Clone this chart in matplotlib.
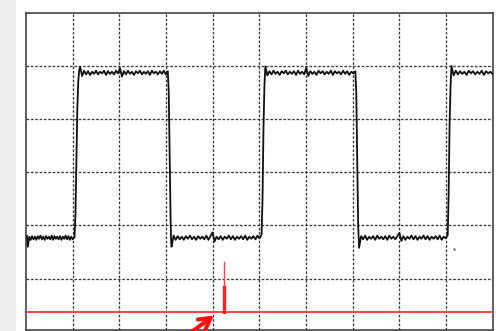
import numpy as np
import matplotlib
matplotlib.use("Agg")
import matplotlib.pyplot as plt
from matplotlib.patches import Rectangle

# ---- data (divisions: x 0..10, y 0..6) ----
low1_x = [0.02, 0.04, 0.07, 0.10, 0.13, 0.16, 0.19, 0.22, 0.25, 0.28, 0.31, 0.34,
          0.37, 0.40, 0.43, 0.46, 0.49, 0.52, 0.55, 0.58, 0.61, 0.64, 0.67, 0.70,
          0.73, 0.76, 0.79, 0.82, 0.85, 0.88, 0.91, 0.94, 0.97, 1.00, 1.04]
low1_y = [1.80, 1.60, 1.79, 1.73, 1.80, 1.74, 1.79, 1.73, 1.80, 1.75, 1.81, 1.74,
          1.79, 1.73, 1.80, 1.75, 1.79, 1.74, 1.81, 1.73, 1.80, 1.75, 1.79, 1.74,
          1.80, 1.73, 1.79, 1.75, 1.81, 1.74, 1.80, 1.73, 1.79, 1.74, 1.78]

rise1_x = [1.06, 1.08, 1.10, 1.12, 1.14]
rise1_y = [2.20, 3.20, 4.20, 4.70, 4.92]
high1_span = (1.16, 3.04)
high1_y = [4.98, 4.81, 4.91, 4.84, 4.90, 4.83, 4.89, 4.85, 4.91, 4.84, 4.89, 4.86,
           4.91, 4.83, 4.90, 4.85, 4.89, 4.84, 4.91, 4.86, 4.96, 4.80, 4.90, 4.84,
           4.91, 4.85, 4.89, 4.83, 4.90, 4.86, 4.91, 4.84, 4.89, 4.85, 4.90, 4.83,
           4.91, 4.86, 4.89, 4.84, 4.90, 4.85, 4.91, 4.84, 4.90]

fall1_x = [3.06, 3.08, 3.10, 3.11]
fall1_y = [4.50, 3.30, 2.10, 1.70]
low2_span = (3.12, 5.05)
low2_y = [1.60, 1.81, 1.73, 1.80, 1.74, 1.79, 1.73, 1.80, 1.75, 1.81, 1.74, 1.79,
          1.73, 1.80, 1.75, 1.79, 1.74, 1.81, 1.73, 1.80, 1.87, 1.70, 1.79, 1.74,
          1.80, 1.73, 1.79, 1.75, 1.81, 1.74, 1.80, 1.73, 1.79, 1.75, 1.80, 1.74,
          1.81, 1.73, 1.79, 1.75, 1.80, 1.74, 1.81, 1.76, 1.83]

rise2_x = [5.07, 5.09, 5.11]
rise2_y = [2.50, 3.80, 4.60]
high2_span = (5.13, 7.06)
high2_y = [4.99, 4.82, 4.90, 4.84, 4.91, 4.85, 4.89, 4.83, 4.90, 4.86, 4.91, 4.84,
           4.89, 4.85, 4.90, 4.83, 4.91, 4.85, 4.89, 4.84, 4.97, 4.81, 4.90, 4.85,
           4.89, 4.83, 4.91, 4.86, 4.90, 4.84, 4.89, 4.85, 4.91, 4.83, 4.90, 4.86,
           4.89, 4.84, 4.91, 4.85, 4.90, 4.83, 4.89, 4.86, 4.90]

fall2_x = [7.08, 7.10, 7.12]
fall2_y = [4.50, 3.20, 2.00]
low3_span = (7.14, 9.04)
low3_y = [1.58, 1.80, 1.74, 1.81, 1.73, 1.79, 1.75, 1.80, 1.73, 1.81, 1.75, 1.79,
          1.74, 1.80, 1.73, 1.81, 1.75, 1.79, 1.74, 1.80, 1.86, 1.71, 1.80, 1.73,
          1.79, 1.75, 1.81, 1.74, 1.80, 1.73, 1.79, 1.75, 1.81, 1.74, 1.80, 1.73,
          1.79, 1.75, 1.80, 1.74, 1.81, 1.73, 1.79, 1.76, 1.82]

rise3_x = [9.06, 9.08, 9.10]
rise3_y = [2.60, 3.90, 4.60]
high3_span = (9.12, 10.0)
high3_y = [5.00, 4.82, 4.91, 4.84, 4.90, 4.85, 4.89, 4.83, 4.91, 4.86, 4.90, 4.84,
           4.89, 4.85, 4.91, 4.83, 4.90, 4.86, 4.89, 4.85]

red_level = 0.38
spike_x = 4.25
spike_mid = 0.84
spike_top = 1.31
arrow_tail = (3.49, -0.04)
arrow_tip = (4.03, 0.31)
stray_dot = (9.17, 1.56)

# ---- build trace ----
def plateau(span, ys):
    return list(np.linspace(span[0], span[1], len(ys))), list(ys)

tx, ty = [], []
for seg in [(low1_x, low1_y), (rise1_x, rise1_y), plateau(high1_span, high1_y),
            (fall1_x, fall1_y), plateau(low2_span, low2_y),
            (rise2_x, rise2_y), plateau(high2_span, high2_y),
            (fall2_x, fall2_y), plateau(low3_span, low3_y),
            (rise3_x, rise3_y), plateau(high3_span, high3_y)]:
    tx += list(seg[0]); ty += list(seg[1])

W, H = 498, 331
fig = plt.figure(figsize=(W / 100, H / 100), dpi=100)
fig.patch.set_facecolor("white")
fig.patches.append(Rectangle((0, 0), 16 / W, 1, transform=fig.transFigure,
                             facecolor="#ececef", edgecolor="none", zorder=0))

left, right, top, bottom = 26, 492.5, 12.7, 329.5
ax = fig.add_axes([left / W, 1 - bottom / H, (right - left) / W, (bottom - top) / H])
ax.set_xlim(0, 10)
ax.set_ylim(0.045, 6)
ax.set_facecolor("white")
ax.set_xticks(np.arange(1, 10))
ax.set_yticks(np.arange(1, 6))
ax.tick_params(length=0, labelbottom=False, labelleft=False)
ax.grid(True, color="#3a3a3a", linestyle=(0, (2, 1.3)), linewidth=0.95)
for s in ax.spines.values():
    s.set_color("#444444")
    s.set_linewidth(1.2)

ax.plot(tx, ty, color="#111111", lw=1.3, zorder=3)

ax.plot([0, 10], [red_level, red_level], color="#ff4040", lw=1.4, zorder=3)
ax.plot([spike_x, spike_x], [red_level, spike_top], color="#ff4040", lw=1.0, zorder=3)
ax.plot([spike_x, spike_x], [red_level, spike_mid], color="#ff2020", lw=2.4, zorder=3)
ax.plot([stray_dot[0]], [stray_dot[1]], marker=".", ms=1.5, color="#666666")

ax.annotate("", xy=arrow_tip, xytext=arrow_tail, annotation_clip=False,
            arrowprops=dict(arrowstyle="->,head_length=0.8,head_width=0.45",
                            color="#ff1010", lw=3.0, shrinkA=0, shrinkB=0))

fig.savefig("out.png", dpi=100)
